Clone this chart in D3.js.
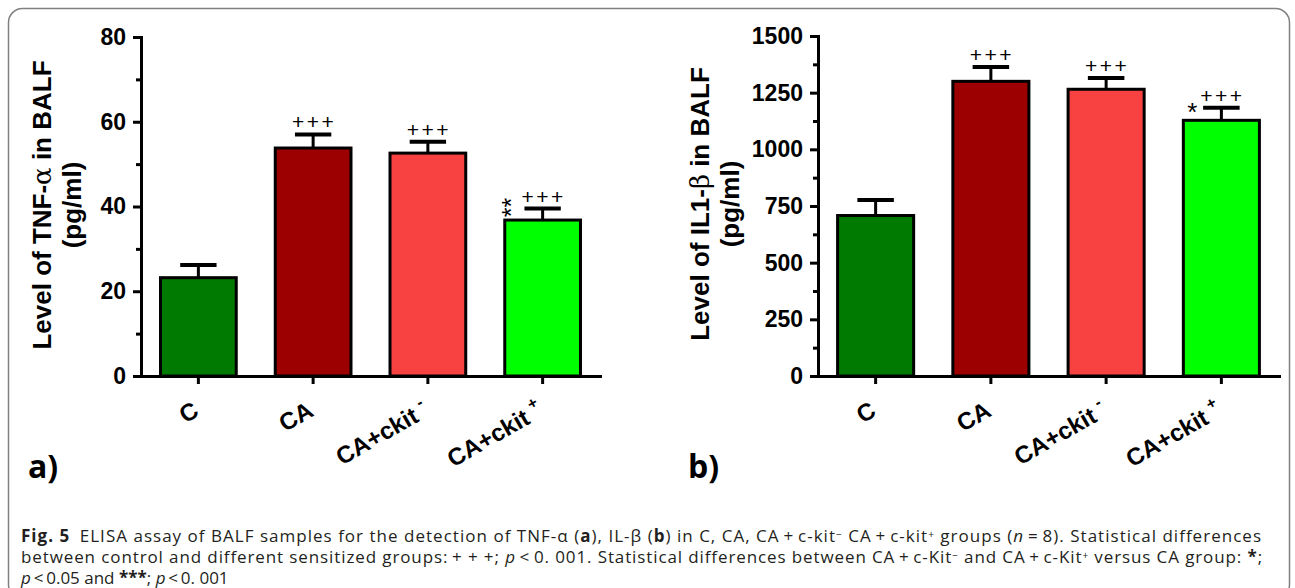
<!DOCTYPE html>
<html>
<head>
<meta charset="utf-8">
<script src="https://cdn.jsdelivr.net/npm/d3@7"></script>
<style>
  body { margin: 0; background: #fff; }
  svg { display: block; }
  .tick text { font-family: "Liberation Sans", Arial, sans-serif; font-weight: bold; }
</style>
</head>
<body>
<svg id="fig" width="1295" height="588"></svg>
<script>
// groups on the x axis (label + superscript mark)
const groups = ["C", "CA", "CA+ckit-", "CA+ckit+"];
const groupLabels = ["C", "CA", "CA+ckit", "CA+ckit"];
const groupSup = ["", "", "-", "+"];
const barColors = ["#007a00", "#9c0000", "#f84242", "#00ff00"];

// panel a: TNF-alpha (pg/ml)
const tnfMean = [23.2, 53.8, 52.6, 36.8];
const tnfSem = [3.0, 3.2, 2.7, 2.7];
const tnfTicks = [0, 20, 40, 60, 80];
const tnfMinor = [10, 30, 50, 70];
const tnfPlus = ["", "+++", "+++", "+++"];
const tnfStar = ["", "", "", "**"];

// panel b: IL1-beta (pg/ml)
const ilMean = [708, 1300, 1265, 1128];
const ilSem = [68, 63, 50, 55];
const ilTicks = [0, 250, 500, 750, 1000, 1250, 1500];
const ilMinor = [125, 375, 625, 875, 1125, 1375];
const ilPlus = ["", "+++", "+++", "+++"];
const ilStar = ["", "", "", "*"];

const svg = d3.select("#fig");
const font = '"Liberation Sans", Arial, sans-serif';

// frame
svg.append("rect")
    .attr("x", 8.5).attr("y", 8.5)
    .attr("width", 1281).attr("height", 590)
    .attr("rx", 14)
    .attr("fill", "none")
    .attr("stroke", "#808080")
    .attr("stroke-width", 1.5);

function drawPanel(p) {
    const x = d3.scaleBand()
        .domain(groups)
        .range([p.left, p.right])
        .paddingInner(0.34)
        .paddingOuter(0.17);

    const y = d3.scaleLinear()
        .domain([0, p.max])
        .range([376, p.top]);

    const g = svg.append("g");

    // bars
    g.selectAll(".bar")
        .data(p.mean)
        .enter().append("rect")
        .attr("x", (d, i) => x(groups[i]))
        .attr("width", x.bandwidth())
        .attr("y", d => y(d))
        .attr("height", d => y(0) - y(d))
        .attr("fill", (d, i) => barColors[i])
        .attr("stroke", "#000")
        .attr("stroke-width", 3);

    // error bars (upper only)
    const capW = x.bandwidth() * 0.48;
    p.mean.forEach((m, i) => {
        const cx = x(groups[i]) + x.bandwidth() / 2;
        g.append("line")
            .attr("x1", cx).attr("x2", cx)
            .attr("y1", y(m)).attr("y2", y(m + p.sem[i]))
            .attr("stroke", "#000").attr("stroke-width", 3);
        g.append("line")
            .attr("x1", cx - capW / 2).attr("x2", cx + capW / 2)
            .attr("y1", y(m + p.sem[i])).attr("y2", y(m + p.sem[i]))
            .attr("stroke", "#000").attr("stroke-width", 4);

        if (p.plus[i]) {
            g.append("text")
                .attr("x", cx + 1).attr("y", y(m + p.sem[i]) - 5)
                .attr("text-anchor", "middle")
                .style("font-family", font)
                .style("font-size", "21px")
                .style("letter-spacing", "2.5px")
                .text(p.plus[i]);
        }
        if (p.star[i]) {
            const sx = x(groups[i]) + 9;
            const sy = y(m + p.sem[i]) - 1;
            if (p.star[i].length > 1) {
                g.append("text")
                    .attr("transform", `translate(${sx + 6},${sy}) rotate(-90)`)
                    .attr("text-anchor", "middle")
                    .style("font-family", font)
                    .style("font-size", "25px")
                    .text(p.star[i]);
            } else {
                g.append("text")
                    .attr("x", sx).attr("y", sy + 14)
                    .attr("text-anchor", "middle")
                    .style("font-family", font)
                    .style("font-size", "26px")
                    .text(p.star[i]);
            }
        }
    });

    // y axis: minor ticks then major ticks with labels
    g.append("g")
        .attr("transform", `translate(${p.left},0)`)
        .call(d3.axisLeft(y).tickValues(p.minor).tickSize(5).tickFormat("").tickSizeOuter(0))
        .call(a => a.select(".domain").remove())
        .selectAll("line").attr("stroke-width", 3);

    const ya = g.append("g")
        .attr("transform", `translate(${p.left},0)`)
        .call(d3.axisLeft(y).tickValues(p.ticks).tickSize(8).tickPadding(7)
            .tickFormat(d3.format("d")).tickSizeOuter(0));
    ya.select(".domain").attr("stroke-width", 3).attr("stroke-linecap", "square");
    ya.selectAll("line").attr("stroke-width", 3);
    ya.selectAll("text").style("font-size", "23px").attr("fill", "#000");

    // x axis
    const xa = g.append("g")
        .attr("transform", `translate(0,${y(0)})`)
        .call(d3.axisBottom(x).tickSize(8).tickFormat("").tickSizeOuter(0));
    xa.select(".domain").attr("stroke-width", 3).attr("stroke-linecap", "square");
    xa.selectAll("line").attr("stroke-width", 3);

    groups.forEach((grp, i) => {
        const cx = x(grp) + x.bandwidth() / 2;
        const t = g.append("text")
            .attr("transform", `translate(${cx + 2},${y(0) + 39}) rotate(-30)`)
            .attr("text-anchor", "end")
            .style("font-family", font)
            .style("font-weight", "bold")
            .style("font-size", "24px");
        t.append("tspan").text(groupLabels[i]);
        if (groupSup[i]) {
            t.append("tspan")
                .attr("dx", 6).attr("dy", -11)
                .style("font-size", "16px")
                .text(groupSup[i]);
        }
    });

    // y title
    const tl = g.append("text")
        .attr("transform", `translate(${p.titleX},${p.titleY}) rotate(-90)`)
        .attr("text-anchor", "middle")
        .style("font-family", font)
        .style("font-weight", "bold")
        .style("font-size", "26px");
    tl.append("tspan").text(p.title[0]);
    tl.append("tspan").style("font-family", '"DejaVu Serif", serif').style("font-weight", "normal").text(p.title[1]);
    tl.append("tspan").text(p.title[2]);

    g.append("text")
        .attr("transform", `translate(${p.titleX + 30},${p.titleY}) rotate(-90)`)
        .attr("text-anchor", "middle")
        .style("font-family", font)
        .style("font-weight", "bold")
        .style("font-size", "26px")
        .text("(pg/ml)");

    // panel letter
    svg.append("text")
        .attr("x", p.letterX).attr("y", 478)
        .style("font-family", '"Open Sans", "Noto Sans", sans-serif')
        .style("font-weight", "bold")
        .style("font-size", "32px")
        .text(p.letter);
}

drawPanel({
    left: 141, right: 600, top: 37, max: 80,
    mean: tnfMean, sem: tnfSem, ticks: tnfTicks, minor: tnfMinor,
    plus: tnfPlus, star: tnfStar,
    title: ["Level of TNF-", "α", " in BALF"], titleX: 51, titleY: 205,
    letter: "a)", letterX: 28
});

drawPanel({
    left: 818, right: 1279, top: 36, max: 1500,
    mean: ilMean, sem: ilSem, ticks: ilTicks, minor: ilMinor,
    plus: ilPlus, star: ilStar,
    title: ["Level of IL1-", "β", " in BALF"], titleX: 709, titleY: 204,
    letter: "b)", letterX: 688
});

// caption
const cap = svg.append("g")
    .style("font-family", '"Open Sans", "Noto Sans", sans-serif')
    .style("font-size", "17px")
    .attr("fill", "#231f20");

function capLine(yPos, parts, target) {
    const t = cap.append("text").attr("x", 21).attr("y", yPos);
    parts.forEach(pt => {
        const s = t.append("tspan").text(pt.t);
        if (pt.b) s.style("font-weight", "bold");
        if (pt.i) s.style("font-style", "italic");
        if (pt.sup) s.attr("baseline-shift", "4px").style("font-size", "10px");
    });
    if (target) {
        // spread the line to the width of the printed caption
        const w = t.node().getComputedTextLength();
        const n = t.text().length;
        t.style("letter-spacing", ((target - w) / n) + "px");
    }
    return t;
}

capLine(542, [
    { t: "Fig. 5", b: true },
    { t: "\u2002ELISA assay of BALF samples for the detection of TNF-α (" },
    { t: "a", b: true }, { t: "), IL-β (" }, { t: "b", b: true },
    { t: ") in C, CA, CA\u2009+\u2009c-kit" }, { t: "−", sup: true },
    { t: " CA\u2009+\u2009c-kit" }, { t: "+", sup: true },
    { t: " groups (" }, { t: "n", i: true }, { t: "\u2009=\u20098). Statistical differences" }
], 1241);
capLine(563, [
    { t: "between control and different sensitized groups:\u2009+ + +; " }, { t: "p", i: true },
    { t: "\u2009<\u20090. 001. Statistical differences between CA\u2009+\u2009c-Kit" }, { t: "−", sup: true },
    { t: " and CA\u2009+\u2009c-Kit" }, { t: "+", sup: true },
    { t: " versus CA group: " }, { t: "*", b: true }, { t: ";" }
], 1242);
capLine(584, [
    { t: "p", i: true }, { t: "\u2009<\u20090.05 and " }, { t: "***", b: true },
    { t: "; " }, { t: "p", i: true }, { t: "\u2009<\u20090. 001" }
], 0);
</script>
</body>
</html>
